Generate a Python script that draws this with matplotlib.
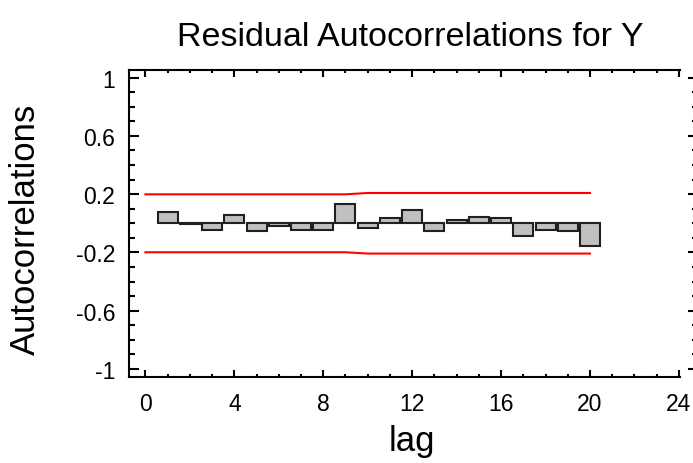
import matplotlib
matplotlib.use('Agg')
import matplotlib.pyplot as plt
from matplotlib.ticker import MultipleLocator, FixedLocator

plt.rcParams['font.family'] = ['Liberation Sans', 'DejaVu Sans']

# residual autocorrelations per lag
lags = list(range(1, 21))
acf = [0.080, -0.005, -0.044, 0.055, -0.055, -0.021, -0.044, -0.044, 0.135, -0.034,
       0.034, 0.092, -0.055, 0.023, 0.046, 0.034, -0.089, -0.044, -0.055, -0.158]

# 95% probability limits
limit_lags = list(range(0, 21))
upper = [0.199] * 10 + [0.208] * 11
lower = [-v for v in upper]

ytick_vals = [-1, -0.6, -0.2, 0.2, 0.6, 1]
ytick_labels = ['-1', '-0.6', '-0.2', '0.2', '0.6', '1']

W, H = 693, 464
fig = plt.figure(figsize=(W / 100, H / 100), dpi=100)
ax = fig.add_axes([129 / W, (H - 378.3) / H, (680 - 129) / W, (378.3 - 70.7) / H])

ax.bar(lags, acf, width=0.9, color='#c0c0c0', edgecolor='#202020', linewidth=1.5)
ax.plot(limit_lags, upper, color='red', lw=1.5)
ax.plot(limit_lags, lower, color='red', lw=1.5)

ax.set_xlim(-0.74, 24.05)
ax.set_ylim(-1.058, 1.055)

ax.xaxis.set_major_locator(MultipleLocator(4))
ax.xaxis.set_minor_locator(MultipleLocator(1))
ax.yaxis.set_major_locator(FixedLocator(ytick_vals))
ax.set_yticklabels(ytick_labels)
ax.yaxis.set_minor_locator(MultipleLocator(0.1))

for s in ax.spines.values():
    s.set_linewidth(1.5)
ax.spines['right'].set_position(('outward', 13))
ax.spines['right'].set_visible(False)

ax.tick_params(axis='x', which='major', direction='in', length=5, width=1.5,
               top=True, labelsize=16.5, pad=10.5)
ax.tick_params(axis='x', which='minor', direction='in', length=2.5, width=1.5, top=True)
ax.tick_params(axis='y', which='major', direction='in', length=7.2, width=1.5,
               right=True, labelsize=16.5, pad=10)
ax.tick_params(axis='y', which='minor', direction='in', length=4.3, width=1.5, right=True)

fig.text(410 / W, 1 - 38 / H, 'Residual Autocorrelations for Y',
         ha='center', va='center', fontsize=24.5)
fig.text(412 / W, 1 - 441 / H, 'lag', ha='center', va='center', fontsize=25)
fig.text(25 / W, 1 - 229 / H, 'Autocorrelations', rotation=90,
         ha='center', va='center', fontsize=25)

fig.savefig('out.png', dpi=100)
